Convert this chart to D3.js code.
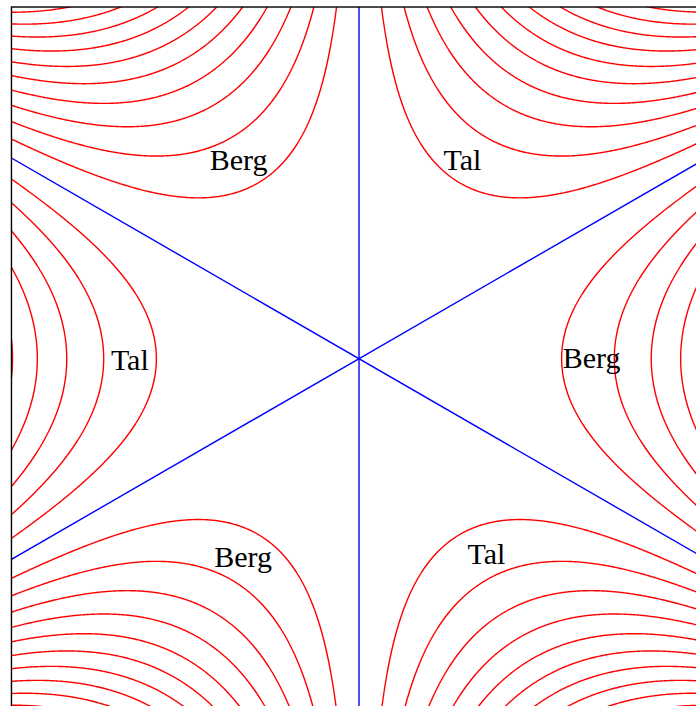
<!DOCTYPE html>
<html>
<head>
<meta charset="utf-8">
<script src="https://cdn.jsdelivr.net/npm/d3@7"></script>
<style>
  body { margin: 0; background: #fff; }
  svg { display: block; }
</style>
</head>
<body>
<svg id="chart" width="696" height="706"></svg>
<script>
// Monkey saddle z = x^3 - 3 x y^2, contour levels (zero level drawn separately)
const levels = [-2.0, -1.8, -1.6, -1.4, -1.2, -1.0, -0.8, -0.6, -0.4, -0.2,
                 0.2, 0.4, 0.6, 0.8, 1.0, 1.2, 1.4, 1.6, 1.8, 2.0];

// Directions (degrees) of the three straight zero-level lines through the origin
const zeroLineAngles = [90, 30, -30];

// Visible window in data units
const xExtent = [-1.003, 1.003];
const yExtent = [-1.03, 1.015];

// Region names: "Berg" on the hills, "Tal" in the valleys
const annotations = [
  { text: "Berg", x: -0.431, y:  0.545 },
  { text: "Tal",  x:  0.244, y:  0.545 },
  { text: "Tal",  x: -0.716, y: -0.033 },
  { text: "Berg", x:  0.588, y: -0.028 },
  { text: "Berg", x: -0.418, y: -0.601 },
  { text: "Tal",  x:  0.313, y: -0.592 }
];

const f = (x, y) => x * x * x - 3 * x * y * y;

const svg = d3.select("#chart");

const cx = 359, cy = 358.7, unit = 346.5;
const x = d3.scaleLinear().domain([-1, 1]).range([cx - unit, cx + unit]);
const y = d3.scaleLinear().domain([-1, 1]).range([cy + unit, cy - unit]);

const fx0 = x(xExtent[0]), fx1 = x(xExtent[1]);
const fy0 = y(yExtent[1]), fy1 = y(yExtent[0]);

svg.append("defs").append("clipPath").attr("id", "plotClip")
  .append("rect")
  .attr("x", fx0).attr("y", fy0)
  .attr("width", fx1 - fx0).attr("height", fy1 - fy0);

// Sample the surface on a pixel grid that extends past the frame
const n = 730, m = 730;
const values = new Float64Array(n * m);
for (let j = 0; j < m; ++j) {
  const yv = y.invert(j + 0.5);
  for (let i = 0; i < n; ++i) {
    values[j * n + i] = f(x.invert(i + 0.5), yv);
  }
}

const contours = d3.contours().size([n, m]).thresholds(levels)(values);
const path = d3.geoPath();

const plot = svg.append("g").attr("clip-path", "url(#plotClip)");

plot.append("g")
  .selectAll("path")
  .data(contours)
  .join("path")
  .attr("d", path)
  .attr("fill", "none")
  .attr("stroke", "#ff0000")
  .attr("stroke-width", 1.4)
  .attr("stroke-linejoin", "round");

plot.append("g")
  .selectAll("line")
  .data(zeroLineAngles)
  .join("line")
  .attr("x1", a => x(-2 * Math.cos(a * Math.PI / 180)))
  .attr("y1", a => y(-2 * Math.sin(a * Math.PI / 180)))
  .attr("x2", a => x(2 * Math.cos(a * Math.PI / 180)))
  .attr("y2", a => y(2 * Math.sin(a * Math.PI / 180)))
  .attr("stroke", "#0000ff")
  .attr("stroke-width", 1.4);

// Frame
svg.append("rect")
  .attr("x", fx0).attr("y", fy0)
  .attr("width", fx1 - fx0).attr("height", fy1 - fy0)
  .attr("fill", "none")
  .attr("stroke", "#000")
  .attr("stroke-width", 1.4);

svg.append("g")
  .selectAll("text")
  .data(annotations)
  .join("text")
  .attr("x", d => x(d.x))
  .attr("y", d => y(d.y))
  .attr("font-family", "'Liberation Serif', 'DejaVu Serif', serif")
  .attr("font-size", 30)
  .attr("fill", "#000")
  .text(d => d.text);
</script>
</body>
</html>
